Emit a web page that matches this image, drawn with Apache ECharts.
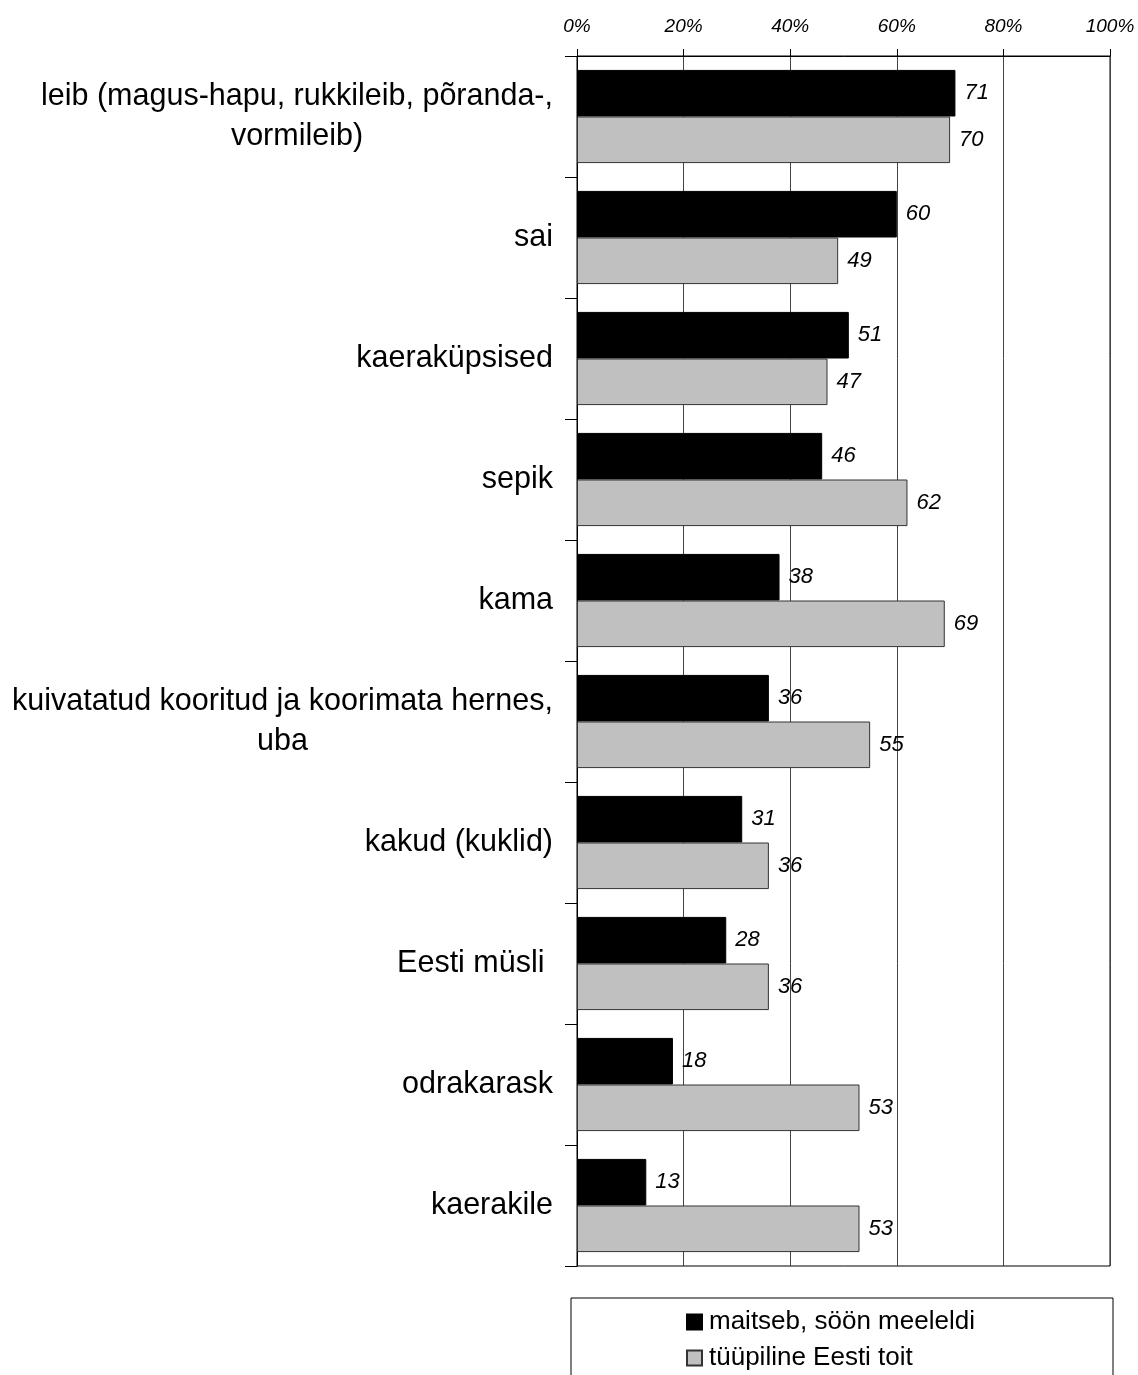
<!DOCTYPE html>
<html>
<head>
<meta charset="utf-8">
<script src="https://cdn.jsdelivr.net/npm/echarts@6/dist/echarts.min.js"></script>
<style>
html, body { margin: 0; padding: 0; background: #fff; }
#chart { width: 1138px; height: 1375px; }
</style>
</head>
<body>
<div id="chart"></div>
<script type="text/javascript">
// toitude nimed (kategooriad)
var categories = [
	'leib (magus-hapu, rukkileib, põranda-,\nvormileib)',
	'sai',
	'kaeraküpsised',
	'sepik',
	'kama',
	'kuivatatud kooritud ja koorimata hernes,\nuba',
	'kakud (kuklid)',
	'Eesti müsli ',
	'odrakarask',
	'kaerakile'
];
var seriesNames = ['maitseb, söön meeleldi', 'tüüpiline Eesti toit'];
var maitseb = [71, 60, 51, 46, 38, 36, 31, 28, 18, 13];
var tyypiline = [70, 49, 47, 62, 69, 55, 36, 36, 53, 53];
var xTicks = [0, 20, 40, 60, 80, 100];

var FONT = '"Liberation Sans", Arial, sans-serif';
var CAT_SIZE = 30.5;

// mitmerealised sildid: read keskele, plokk paremale joondatud
var measureCtx = document.createElement('canvas').getContext('2d');
measureCtx.font = CAT_SIZE + 'px ' + FONT;
var rich = {};
categories.forEach(function(c, i){
	if (c.indexOf('\n') >= 0) {
		var w = 0;
		c.split('\n').forEach(function(l){ w = Math.max(w, measureCtx.measureText(l).width); });
		rich['L' + i] = { width: Math.ceil(w), align: 'center', fontSize: CAT_SIZE, lineHeight: 40, fontFamily: FONT, color: '#000' };
	}
});

var myChart = echarts.init(document.getElementById('chart'));
var option = {
	backgroundColor: '#fff',
	animation: false,
	grid: {
		left: 577, right: 28, top: 56, bottom: 109,
		show: true, borderColor: '#000', borderWidth: 1
	},
	xAxis: {
		type: 'value',
		position: 'top',
		min: xTicks[0],
		max: xTicks[xTicks.length - 1],
		interval: 20,
		axisLine: { show: true, lineStyle: { color: '#000', width: 1 } },
		axisTick: { show: true, length: 7, lineStyle: { color: '#000' } },
		axisLabel: {
			formatter: '{value}%',
			fontStyle: 'italic', fontSize: 19, fontFamily: FONT, color: '#000',
			margin: 20
		},
		splitLine: { show: true, lineStyle: { color: '#444', width: 1 } }
	},
	yAxis: {
		type: 'category',
		inverse: true,
		data: categories,
		axisLine: { show: true, lineStyle: { color: '#000', width: 1 } },
		axisTick: { show: true, length: 12, lineStyle: { color: '#000' } },
		axisLabel: {
			fontSize: CAT_SIZE, fontFamily: FONT, color: '#000', margin: 24, lineHeight: 40,
			formatter: function(v){
				if (v.indexOf('\n') < 0) return v;
				var i = categories.indexOf(v);
				return v.split('\n').map(function(l){ return '{L' + i + '|' + l + '}'; }).join('\n');
			},
			rich: rich
		}
	},
	legend: {
		orient: 'vertical',
		left: 686, top: 1309,
		padding: 0,
		itemWidth: 15, itemHeight: 15, itemGap: 10,
		icon: 'rect',
		textStyle: { fontSize: 26, fontFamily: FONT, color: '#000', padding: [0, 0, 0, 2] },
		data: seriesNames
	},
	graphic: [{
		type: 'rect',
		shape: { x: 571, y: 1298, width: 542, height: 120 },
		style: { fill: 'none', stroke: '#000', lineWidth: 1 },
		silent: true
	}],
	series: [{
		name: seriesNames[0],
		type: 'bar',
		data: maitseb,
		barGap: '0%',
		barCategoryGap: '23%',
		itemStyle: { color: '#000', borderColor: '#000', borderWidth: 1 },
		label: {
			show: true, position: 'right', distance: 9,
			fontStyle: 'italic', fontSize: 22, fontFamily: FONT, color: '#000'
		}
	}, {
		name: seriesNames[1],
		type: 'bar',
		data: tyypiline,
		barGap: '0%',
		barCategoryGap: '23%',
		itemStyle: { color: '#c0c0c0', borderColor: '#333', borderWidth: 1 },
		label: {
			show: true, position: 'right', distance: 9,
			fontStyle: 'italic', fontSize: 22, fontFamily: FONT, color: '#000'
		}
	}]
};
myChart.setOption(option);
</script>
</body>
</html>
